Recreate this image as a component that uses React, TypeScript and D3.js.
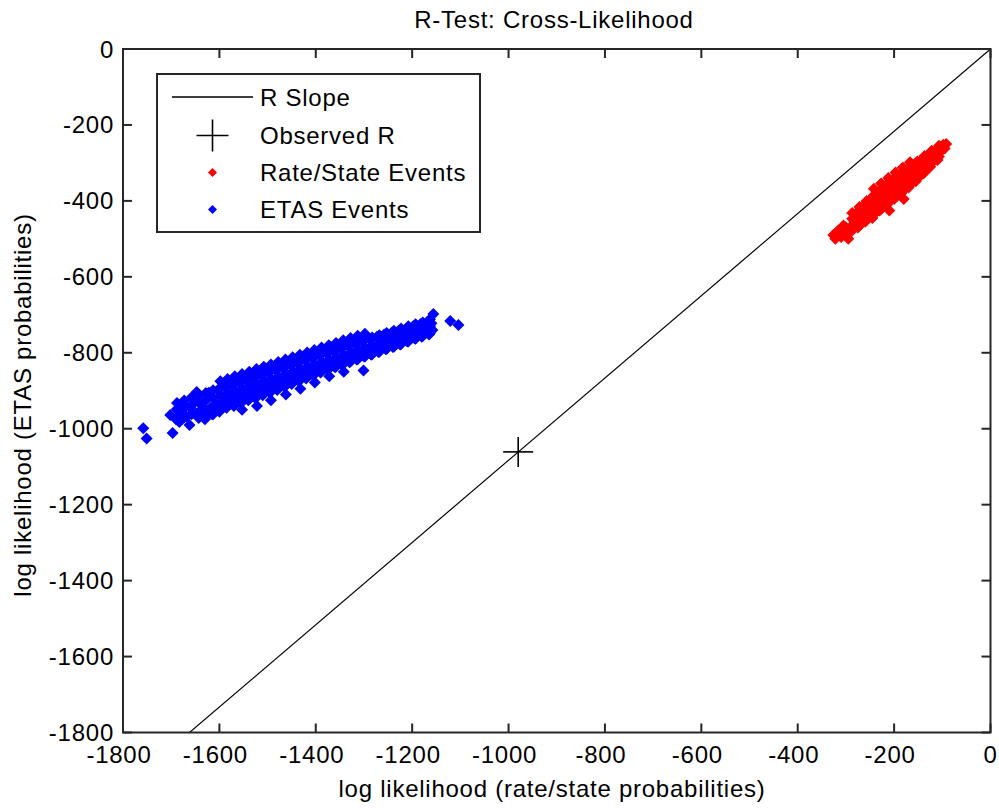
import React from "react";
import * as d3 from "d3";

// Axis ticks
const xTicks = [-1800, -1600, -1400, -1200, -1000, -800, -600, -400, -200, 0];
const yTicks = [0, -200, -400, -600, -800, -1000, -1200, -1400, -1600, -1800];

// R slope line (y = slope * x) and the observed R point
const rSlope = 1.083;
const observedRX = [-980];
const observedRY = [-1061];

// Rate/State simulated catalogue log likelihoods
const rateStateX = [
  -326, -322, -318, -316, -312, -310, -305, -305, -302, -300, -295, -290, -287, -287, -287, -285,
  -282, -278, -275, -272, -272, -272, -272, -272, -267, -263, -260, -258,
  -257, -257, -257, -257,
  -252, -248, -245, -243, -242, -242, -242, -242, -242, -240, -237, -233, -230, -228,
  -227, -227, -227, -227, -227,
  -222, -218, -215, -213, -212, -212, -212, -212, -212, -210, -207, -203, -200, -198,
  -197, -197, -197, -197, -197,
  -192, -188, -185, -183, -182, -182, -182, -182, -182, -180, -177, -173, -170, -168,
  -167, -167, -167, -167, -167,
  -162, -158, -155, -153, -152, -152, -152, -152, -147, -143, -140, -138,
  -137, -137, -137, -137,
  -132, -128, -125, -123, -122, -122, -122, -117, -113, -110,
  -107, -107, -107, -102, -98, -95, -92,
];
const rateStateY = [
  -490, -500, -488, -478, -478, -495, -480, -465, -490, -470, -500, -482, -465, -447, -432, -465,
  -455, -432, -470, -448, -452, -432, -416, -465, -440, -412, -455, -428,
  -437, -417, -400, -450,
  -425, -395, -445, -410, -422, -402, -385, -436, -368, -432, -408, -378, -425, -395,
  -407, -387, -370, -421, -354,
  -395, -360, -410, -378, -392, -372, -355, -405, -340, -425, -378, -345, -395, -360,
  -377, -357, -340, -390, -325,
  -365, -332, -380, -345, -362, -342, -325, -374, -312, -395, -348, -318, -365, -330,
  -347, -327, -310, -358, -298,
  -335, -305, -348, -318, -332, -312, -296, -342, -318, -292, -328, -302,
  -316, -297, -282, -325,
  -300, -278, -310, -288, -300, -282, -268, -282, -265, -292,
  -283, -267, -255, -268, -252, -262, -250,
];

// ETAS simulated catalogue log likelihoods
const etasX = [
  -1758, -1751,
  -1702, -1697, -1690, -1688, -1683, -1678, -1676,
  -1668, -1662, -1660, -1652, -1648, -1647,
  -1638, -1633, -1630, -1622, -1618, -1615,
  -1607, -1603, -1600, -1592, -1588, -1585,
  -1577, -1573, -1570, -1562, -1558, -1555, -1553,
  -1547, -1543, -1540, -1532, -1528, -1525, -1522,
  -1517, -1513, -1510, -1502, -1498, -1495, -1493,
  -1487, -1483, -1480, -1472, -1468, -1465, -1462,
  -1457, -1453, -1450, -1442, -1438, -1435, -1432,
  -1427, -1423, -1420, -1412, -1408, -1405, -1402,
  -1397, -1393, -1390, -1382, -1378, -1375, -1372,
  -1367, -1363, -1360, -1352, -1348, -1345, -1342,
  -1337, -1333, -1330, -1322, -1318, -1315,
  -1307, -1303, -1301, -1300, -1292, -1288, -1285,
  -1277, -1273, -1270, -1262, -1258, -1255,
  -1247, -1243, -1240, -1232, -1228, -1225,
  -1217, -1213, -1210, -1202, -1198, -1195,
  -1187, -1183, -1180, -1172, -1168, -1165,
  -1160, -1158, -1156, -1121, -1104,
  -1688, -1688, -1688, -1673, -1673, -1673, -1658, -1658, -1658,
  -1643, -1643, -1643, -1643, -1628, -1628, -1628, -1628,
  -1613, -1613, -1613, -1613, -1598, -1598, -1598, -1598,
  -1583, -1583, -1583, -1583, -1568, -1568, -1568, -1568,
  -1553, -1553, -1553, -1553, -1538, -1538, -1538, -1538,
  -1523, -1523, -1523, -1523, -1508, -1508, -1508, -1508,
  -1493, -1493, -1493, -1493, -1478, -1478, -1478, -1478,
  -1463, -1463, -1463, -1463, -1448, -1448, -1448, -1448,
  -1433, -1433, -1433, -1433, -1418, -1418, -1418, -1418,
  -1403, -1403, -1403, -1403, -1388, -1388, -1388, -1388,
  -1373, -1373, -1373, -1373, -1358, -1358, -1358, -1358,
  -1343, -1343, -1343, -1343, -1328, -1328, -1328, -1328,
  -1313, -1313, -1313, -1313, -1298, -1298, -1298, -1298,
  -1283, -1283, -1283, -1268, -1268, -1268, -1253, -1253, -1253,
  -1238, -1238, -1238, -1223, -1223, -1223, -1208, -1208, -1208,
  -1193, -1193, -1193, -1178, -1178, -1178, -1163, -1163, -1163,
];
const etasY = [
  -999, -1026,
  -964, -1011, -975, -948, -982, -958, -935,
  -968, -990, -945, -920, -960, -903,
  -952, -930, -975, -905, -945, -962,
  -935, -898, -955, -925, -890, -945,
  -918, -885, -940, -912, -878, -932, -950,
  -905, -870, -925, -898, -865, -920, -940,
  -890, -858, -912, -885, -850, -905, -925,
  -878, -845, -898, -870, -838, -890, -910,
  -865, -830, -882, -858, -825, -875, -895,
  -850, -818, -868, -845, -812, -860, -878,
  -838, -805, -852, -832, -800, -845, -862,
  -825, -795, -838, -818, -788, -832, -850,
  -812, -782, -825, -805, -775, -818,
  -798, -770, -847, -810, -792, -765, -805,
  -785, -758, -798, -778, -752, -790,
  -772, -748, -785, -765, -742, -778,
  -758, -738, -770, -752, -730, -762,
  -745, -725, -758, -738, -718, -752,
  -722, -740, -698, -716, -727,
  -975, -950, -932, -970, -944, -926, -962, -938, -918,
  -957, -931, -912, -972, -950, -925, -906, -968,
  -944, -919, -899, -962, -938, -913, -893, -875,
  -932, -906, -887, -869, -925, -900, -880, -862,
  -918, -894, -874, -856, -912, -887, -868, -850,
  -906, -881, -861, -843, -900, -874, -855, -837,
  -893, -868, -848, -831, -887, -862, -842, -824,
  -880, -856, -836, -818, -874, -849, -830, -812,
  -868, -843, -823, -805, -861, -837, -817, -799,
  -855, -830, -811, -793, -848, -824, -804, -786,
  -842, -818, -798, -780, -836, -811, -792, -774,
  -829, -805, -785, -767, -823, -799, -779, -761,
  -817, -792, -773, -755, -810, -786, -766, -750,
  -804, -780, -760, -797, -774, -754, -790, -767, -748,
  -784, -761, -742, -777, -755, -736, -770, -748, -730,
  -763, -742, -725, -756, -736, -720, -748, -730, -712,
];

const W = 999;
const H = 808;
const plot = { left: 123, right: 990.5, top: 49, bottom: 732.5 };
const FONT = "'Liberation Sans', Arial, Helvetica, sans-serif";
const FS = 24;
const LS = 0.75;
const AXIS = "#262626";
const TICK = 9;

const diamond = (r: number) => `M0,${-r}L${r},0L0,${r}L${-r},0Z`;

export default function App() {
  const x = d3.scaleLinear().domain([-1800, 0]).range([plot.left, plot.right]);
  const y = d3.scaleLinear().domain([-1800, 0]).range([plot.bottom, plot.top]);

  const slopeLine = d3
    .line<number>()
    .x((d) => x(d))
    .y((d) => y(rSlope * d));
  const slopeXs = [-1800, 0];

  const rateState = rateStateX.map((v, i) => [v, rateStateY[i]]);
  const etas = etasX.map((v, i) => [v, etasY[i]]);
  const mr = 6;

  const textProps = {
    fontFamily: FONT,
    fontSize: FS,
    letterSpacing: LS,
    fill: "#000",
  };

  // legend layout
  const lg = { x: 157, y: 74, w: 323, h: 158 };
  const rows = [97, 135.5, 172.5, 209.5];
  const symX = 212.5;
  const txtX = 260;

  return (
    <svg
      width={W}
      height={H}
      style={{ position: "absolute", left: 0, top: 0, background: "#fff" }}
    >
      <defs>
        <clipPath id="plotClip">
          <rect
            x={plot.left}
            y={plot.top}
            width={plot.right - plot.left}
            height={plot.bottom - plot.top}
          />
        </clipPath>
      </defs>
      <rect width={W} height={H} fill="#fff" />

      {/* title */}
      <text x={554} y={28} textAnchor="middle" {...textProps}>
        R-Test: Cross-Likelihood
      </text>

      {/* data */}
      <g clipPath="url(#plotClip)">
        <path
          d={slopeLine(slopeXs) || ""}
          fill="none"
          stroke="#000"
          strokeWidth={1.2}
        />
        {rateState.map((p, i) => (
          <path
            key={"r" + i}
            d={diamond(mr)}
            transform={`translate(${x(p[0])},${y(p[1])})`}
            fill="#ff0000"
          />
        ))}
        {etas.map((p, i) => (
          <path
            key={"e" + i}
            d={diamond(mr)}
            transform={`translate(${x(p[0])},${y(p[1])})`}
            fill="#0000ff"
          />
        ))}
        {observedRX.map((v, i) => (
          <g
            key={"o" + i}
            transform={`translate(${x(v)},${y(observedRY[i])})`}
            stroke="#000"
            strokeWidth={1.6}
          >
            <line x1={-15} x2={15} y1={0} y2={0} />
            <line x1={0} x2={0} y1={-15} y2={15} />
          </g>
        ))}
      </g>

      {/* axes box */}
      <rect
        x={plot.left}
        y={plot.top}
        width={plot.right - plot.left}
        height={plot.bottom - plot.top}
        fill="none"
        stroke={AXIS}
        strokeWidth={2}
      />
      {xTicks.map((t) => (
        <g key={"xt" + t}>
          <line x1={x(t)} x2={x(t)} y1={plot.bottom} y2={plot.bottom - TICK} stroke={AXIS} strokeWidth={2} />
          <line x1={x(t)} x2={x(t)} y1={plot.top} y2={plot.top + TICK} stroke={AXIS} strokeWidth={2} />
          <text x={x(t) - (t < 0 ? 4 : 0)} y={763} textAnchor="middle" {...textProps}>
            {t}
          </text>
        </g>
      ))}
      {yTicks.map((t) => (
        <g key={"yt" + t}>
          <line x1={plot.left} x2={plot.left + TICK} y1={y(t)} y2={y(t)} stroke={AXIS} strokeWidth={2} />
          <line x1={plot.right} x2={plot.right - TICK} y1={y(t)} y2={y(t)} stroke={AXIS} strokeWidth={2} />
          <text x={114} y={y(t) + 8.5} textAnchor="end" {...textProps}>
            {t}
          </text>
        </g>
      ))}

      {/* axis labels */}
      <text x={552} y={797} textAnchor="middle" {...textProps}>
        log likelihood (rate/state probabilities)
      </text>
      <text
        transform={`translate(31,405) rotate(-90)`}
        textAnchor="middle"
        {...textProps}
      >
        log likelihood (ETAS probabilities)
      </text>

      {/* legend */}
      <rect x={lg.x} y={lg.y} width={lg.w} height={lg.h} fill="#fff" stroke={AXIS} strokeWidth={2} />
      <line x1={172} x2={253} y1={rows[0]} y2={rows[0]} stroke="#000" strokeWidth={1.4} />
      <g transform={`translate(${symX},${rows[1]})`} stroke="#000" strokeWidth={1.6}>
        <line x1={-16} x2={16} y1={0} y2={0} />
        <line x1={0} x2={0} y1={-16} y2={16} />
      </g>
      <path d={diamond(4.5)} transform={`translate(${symX},${rows[2]})`} fill="#ff0000" />
      <path d={diamond(4.5)} transform={`translate(${symX},${rows[3]})`} fill="#0000ff" />
      {["R Slope", "Observed R", "Rate/State Events", "ETAS Events"].map((s, i) => (
        <text key={s} x={txtX} y={rows[i] + 8.5} {...textProps}>
          {s}
        </text>
      ))}
    </svg>
  );
}
